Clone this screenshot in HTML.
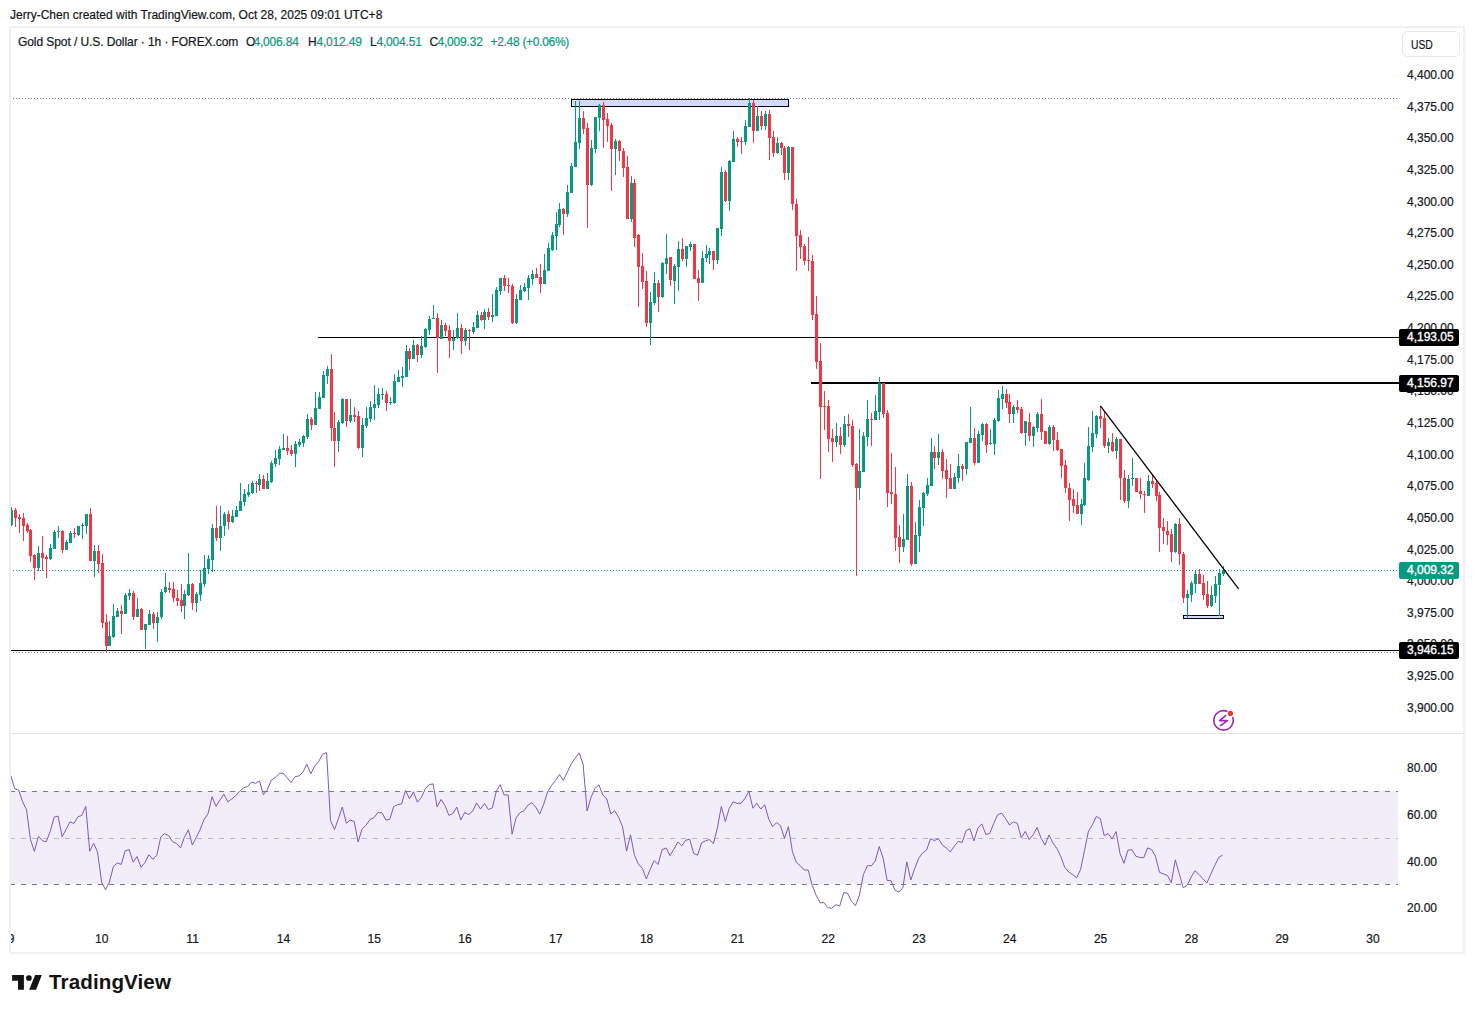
<!DOCTYPE html><html><head><meta charset="utf-8"><style>html,body{margin:0;padding:0;background:#fff;}body{width:1474px;height:1013px;position:relative;overflow:hidden;font-family:"Liberation Sans",sans-serif;color:#131722;-webkit-text-stroke:0.2px currentColor;}.t{position:absolute;white-space:nowrap;line-height:1;}.pa{position:absolute;left:1407px;font-size:12px;line-height:14px;white-space:nowrap;color:#131722;}.ta{position:absolute;font-size:12px;line-height:14px;white-space:nowrap;color:#131722;transform:translateX(-50%);}</style></head><body>
<div class="t" style="left:10px;top:9px;font-size:12px;color:#131722">Jerry-Chen created with TradingView.com, Oct 28, 2025 09:01 UTC+8</div>
<svg width="1474" height="1013" style="position:absolute;left:0;top:0"><defs><clipPath id="cp"><rect x="10" y="28" width="1453" height="705"/></clipPath><clipPath id="cr"><rect x="10" y="734" width="1388" height="190"/></clipPath></defs><rect x="11" y="791" width="1387" height="93" fill="#f2eef9"/><g clip-path="url(#cr)"><line x1="10" y1="791.5" x2="1401" y2="791.5" stroke="#787b86" stroke-width="1" stroke-dasharray="5 6"/><line x1="10" y1="838.5" x2="1401" y2="838.5" stroke="#b8bac2" stroke-width="1" stroke-dasharray="5 6"/><line x1="10" y1="884.5" x2="1401" y2="884.5" stroke="#787b86" stroke-width="1" stroke-dasharray="5 6"/></g><rect x="11" y="733" width="1452" height="1" fill="#e0e3eb"/><g clip-path="url(#cp)"><line x1="10" y1="98.5" x2="1397" y2="98.5" stroke="#787b86" stroke-width="1" stroke-dasharray="1 2"/><line x1="10" y1="652.5" x2="1397" y2="652.5" stroke="#787b86" stroke-width="1" stroke-dasharray="1 2"/><rect x="318" y="337" width="1081" height="1" fill="#000"/><rect x="811" y="382" width="588" height="2" fill="#000"/><rect x="11" y="650" width="1388" height="1" fill="#000"/><line x1="10" y1="570.5" x2="1397" y2="570.5" stroke="#089981" stroke-width="1" stroke-dasharray="1 2"/><rect x="571.5" y="99.5" width="217" height="7" fill="#d2dcfa" stroke="#000" stroke-width="1"/><rect x="1183.5" y="615.5" width="40" height="3" fill="#d2dcfa" stroke="#000" stroke-width="1"/><rect x="11" y="507" width="1" height="19" fill="#089981"/><rect x="10" y="510" width="3" height="15" fill="#089981"/><rect x="15" y="508" width="1" height="19" fill="#F23645"/><rect x="14" y="510" width="3" height="8" fill="#F23645"/><rect x="19" y="514" width="1" height="19" fill="#F23645"/><rect x="18" y="517" width="3" height="2" fill="#F23645"/><rect x="23" y="513" width="1" height="28" fill="#F23645"/><rect x="22" y="518" width="3" height="8" fill="#F23645"/><rect x="27" y="523" width="1" height="10" fill="#F23645"/><rect x="26" y="525" width="3" height="6" fill="#F23645"/><rect x="30" y="529" width="1" height="33" fill="#F23645"/><rect x="29" y="530" width="3" height="26" fill="#F23645"/><rect x="34" y="554" width="1" height="26" fill="#F23645"/><rect x="33" y="555" width="3" height="13" fill="#F23645"/><rect x="38" y="546" width="1" height="25" fill="#089981"/><rect x="37" y="553" width="3" height="15" fill="#089981"/><rect x="42" y="536" width="1" height="35" fill="#F23645"/><rect x="41" y="553" width="3" height="5" fill="#F23645"/><rect x="46" y="555" width="1" height="23" fill="#F23645"/><rect x="45" y="557" width="3" height="2" fill="#F23645"/><rect x="50" y="544" width="1" height="16" fill="#089981"/><rect x="49" y="548" width="3" height="11" fill="#089981"/><rect x="54" y="530" width="1" height="19" fill="#089981"/><rect x="53" y="532" width="3" height="17" fill="#089981"/><rect x="58" y="526" width="1" height="12" fill="#089981"/><rect x="57" y="531" width="3" height="1" fill="#089981"/><rect x="62" y="530" width="1" height="23" fill="#F23645"/><rect x="61" y="531" width="3" height="19" fill="#F23645"/><rect x="66" y="540" width="1" height="10" fill="#089981"/><rect x="65" y="542" width="3" height="8" fill="#089981"/><rect x="70" y="531" width="1" height="12" fill="#089981"/><rect x="69" y="533" width="3" height="10" fill="#089981"/><rect x="74" y="528" width="1" height="10" fill="#F23645"/><rect x="73" y="533" width="3" height="1" fill="#F23645"/><rect x="78" y="526" width="1" height="10" fill="#089981"/><rect x="77" y="526" width="3" height="9" fill="#089981"/><rect x="82" y="523" width="1" height="16" fill="#089981"/><rect x="81" y="525" width="3" height="1" fill="#089981"/><rect x="86" y="514" width="1" height="20" fill="#089981"/><rect x="85" y="514" width="3" height="12" fill="#089981"/><rect x="90" y="508" width="1" height="53" fill="#F23645"/><rect x="89" y="514" width="3" height="47" fill="#F23645"/><rect x="94" y="545" width="1" height="32" fill="#089981"/><rect x="93" y="551" width="3" height="10" fill="#089981"/><rect x="98" y="545" width="1" height="28" fill="#F23645"/><rect x="97" y="551" width="3" height="13" fill="#F23645"/><rect x="102" y="554" width="1" height="74" fill="#F23645"/><rect x="101" y="563" width="3" height="60" fill="#F23645"/><rect x="106" y="614" width="1" height="38" fill="#F23645"/><rect x="105" y="622" width="3" height="24" fill="#F23645"/><rect x="109" y="621" width="1" height="25" fill="#089981"/><rect x="108" y="636" width="3" height="10" fill="#089981"/><rect x="113" y="604" width="1" height="34" fill="#089981"/><rect x="112" y="616" width="3" height="21" fill="#089981"/><rect x="117" y="608" width="1" height="9" fill="#089981"/><rect x="116" y="611" width="3" height="6" fill="#089981"/><rect x="121" y="605" width="1" height="29" fill="#F23645"/><rect x="120" y="611" width="3" height="3" fill="#F23645"/><rect x="125" y="593" width="1" height="21" fill="#089981"/><rect x="124" y="595" width="3" height="19" fill="#089981"/><rect x="129" y="589" width="1" height="11" fill="#089981"/><rect x="128" y="593" width="3" height="3" fill="#089981"/><rect x="133" y="591" width="1" height="29" fill="#F23645"/><rect x="132" y="593" width="3" height="24" fill="#F23645"/><rect x="137" y="598" width="1" height="19" fill="#089981"/><rect x="136" y="609" width="3" height="8" fill="#089981"/><rect x="141" y="608" width="1" height="22" fill="#F23645"/><rect x="140" y="609" width="3" height="21" fill="#F23645"/><rect x="145" y="624" width="1" height="25" fill="#089981"/><rect x="144" y="624" width="3" height="6" fill="#089981"/><rect x="149" y="610" width="1" height="15" fill="#089981"/><rect x="148" y="614" width="3" height="11" fill="#089981"/><rect x="153" y="612" width="1" height="17" fill="#F23645"/><rect x="152" y="614" width="3" height="9" fill="#F23645"/><rect x="157" y="612" width="1" height="30" fill="#089981"/><rect x="156" y="617" width="3" height="6" fill="#089981"/><rect x="161" y="589" width="1" height="30" fill="#089981"/><rect x="160" y="592" width="3" height="25" fill="#089981"/><rect x="165" y="573" width="1" height="20" fill="#089981"/><rect x="164" y="587" width="3" height="5" fill="#089981"/><rect x="169" y="582" width="1" height="11" fill="#F23645"/><rect x="168" y="588" width="3" height="2" fill="#F23645"/><rect x="173" y="582" width="1" height="20" fill="#F23645"/><rect x="172" y="589" width="3" height="9" fill="#F23645"/><rect x="177" y="590" width="1" height="16" fill="#F23645"/><rect x="176" y="598" width="3" height="3" fill="#F23645"/><rect x="181" y="584" width="1" height="28" fill="#F23645"/><rect x="180" y="600" width="3" height="6" fill="#F23645"/><rect x="184" y="590" width="1" height="29" fill="#089981"/><rect x="183" y="594" width="3" height="12" fill="#089981"/><rect x="188" y="553" width="1" height="43" fill="#089981"/><rect x="187" y="584" width="3" height="11" fill="#089981"/><rect x="192" y="583" width="1" height="27" fill="#F23645"/><rect x="191" y="584" width="3" height="19" fill="#F23645"/><rect x="196" y="592" width="1" height="20" fill="#089981"/><rect x="195" y="594" width="3" height="9" fill="#089981"/><rect x="200" y="570" width="1" height="31" fill="#089981"/><rect x="199" y="583" width="3" height="12" fill="#089981"/><rect x="204" y="555" width="1" height="32" fill="#089981"/><rect x="203" y="568" width="3" height="16" fill="#089981"/><rect x="208" y="555" width="1" height="19" fill="#089981"/><rect x="207" y="559" width="3" height="10" fill="#089981"/><rect x="212" y="524" width="1" height="48" fill="#089981"/><rect x="211" y="528" width="3" height="32" fill="#089981"/><rect x="216" y="506" width="1" height="35" fill="#F23645"/><rect x="215" y="528" width="3" height="10" fill="#F23645"/><rect x="220" y="506" width="1" height="45" fill="#089981"/><rect x="219" y="526" width="3" height="12" fill="#089981"/><rect x="224" y="512" width="1" height="24" fill="#089981"/><rect x="223" y="514" width="3" height="12" fill="#089981"/><rect x="228" y="511" width="1" height="18" fill="#F23645"/><rect x="227" y="514" width="3" height="8" fill="#F23645"/><rect x="232" y="510" width="1" height="13" fill="#089981"/><rect x="231" y="516" width="3" height="6" fill="#089981"/><rect x="236" y="506" width="1" height="11" fill="#089981"/><rect x="235" y="510" width="3" height="7" fill="#089981"/><rect x="240" y="483" width="1" height="28" fill="#089981"/><rect x="239" y="501" width="3" height="10" fill="#089981"/><rect x="244" y="489" width="1" height="17" fill="#089981"/><rect x="243" y="494" width="3" height="8" fill="#089981"/><rect x="248" y="484" width="1" height="13" fill="#089981"/><rect x="247" y="492" width="3" height="3" fill="#089981"/><rect x="252" y="481" width="1" height="13" fill="#089981"/><rect x="251" y="483" width="3" height="10" fill="#089981"/><rect x="256" y="481" width="1" height="12" fill="#F23645"/><rect x="255" y="483" width="3" height="1" fill="#F23645"/><rect x="259" y="474" width="1" height="17" fill="#089981"/><rect x="258" y="479" width="3" height="6" fill="#089981"/><rect x="263" y="475" width="1" height="14" fill="#F23645"/><rect x="262" y="479" width="3" height="10" fill="#F23645"/><rect x="267" y="473" width="1" height="16" fill="#089981"/><rect x="266" y="481" width="3" height="8" fill="#089981"/><rect x="271" y="461" width="1" height="22" fill="#089981"/><rect x="270" y="463" width="3" height="19" fill="#089981"/><rect x="275" y="450" width="1" height="17" fill="#089981"/><rect x="274" y="458" width="3" height="6" fill="#089981"/><rect x="279" y="446" width="1" height="19" fill="#089981"/><rect x="278" y="449" width="3" height="10" fill="#089981"/><rect x="283" y="434" width="1" height="16" fill="#089981"/><rect x="282" y="448" width="3" height="2" fill="#089981"/><rect x="287" y="436" width="1" height="19" fill="#F23645"/><rect x="286" y="448" width="3" height="3" fill="#F23645"/><rect x="291" y="445" width="1" height="11" fill="#F23645"/><rect x="290" y="450" width="3" height="4" fill="#F23645"/><rect x="295" y="441" width="1" height="26" fill="#089981"/><rect x="294" y="444" width="3" height="10" fill="#089981"/><rect x="299" y="439" width="1" height="8" fill="#089981"/><rect x="298" y="442" width="3" height="3" fill="#089981"/><rect x="303" y="435" width="1" height="12" fill="#089981"/><rect x="302" y="436" width="3" height="7" fill="#089981"/><rect x="307" y="414" width="1" height="25" fill="#089981"/><rect x="306" y="419" width="3" height="18" fill="#089981"/><rect x="311" y="417" width="1" height="13" fill="#F23645"/><rect x="310" y="419" width="3" height="6" fill="#F23645"/><rect x="315" y="392" width="1" height="33" fill="#089981"/><rect x="314" y="408" width="3" height="17" fill="#089981"/><rect x="319" y="392" width="1" height="17" fill="#089981"/><rect x="318" y="397" width="3" height="12" fill="#089981"/><rect x="323" y="371" width="1" height="27" fill="#089981"/><rect x="322" y="375" width="3" height="23" fill="#089981"/><rect x="327" y="366" width="1" height="18" fill="#089981"/><rect x="326" y="369" width="3" height="7" fill="#089981"/><rect x="331" y="354" width="1" height="87" fill="#F23645"/><rect x="330" y="369" width="3" height="59" fill="#F23645"/><rect x="334" y="412" width="1" height="55" fill="#F23645"/><rect x="333" y="428" width="3" height="13" fill="#F23645"/><rect x="338" y="420" width="1" height="32" fill="#089981"/><rect x="337" y="422" width="3" height="19" fill="#089981"/><rect x="342" y="398" width="1" height="26" fill="#089981"/><rect x="341" y="399" width="3" height="24" fill="#089981"/><rect x="346" y="399" width="1" height="28" fill="#F23645"/><rect x="345" y="399" width="3" height="22" fill="#F23645"/><rect x="350" y="399" width="1" height="24" fill="#089981"/><rect x="349" y="415" width="3" height="6" fill="#089981"/><rect x="354" y="407" width="1" height="15" fill="#F23645"/><rect x="353" y="415" width="3" height="2" fill="#F23645"/><rect x="358" y="411" width="1" height="38" fill="#F23645"/><rect x="357" y="416" width="3" height="32" fill="#F23645"/><rect x="362" y="418" width="1" height="39" fill="#089981"/><rect x="361" y="425" width="3" height="23" fill="#089981"/><rect x="366" y="407" width="1" height="21" fill="#089981"/><rect x="365" y="418" width="3" height="8" fill="#089981"/><rect x="370" y="401" width="1" height="21" fill="#089981"/><rect x="369" y="407" width="3" height="12" fill="#089981"/><rect x="374" y="385" width="1" height="35" fill="#089981"/><rect x="373" y="404" width="3" height="4" fill="#089981"/><rect x="378" y="388" width="1" height="20" fill="#089981"/><rect x="377" y="394" width="3" height="11" fill="#089981"/><rect x="382" y="388" width="1" height="12" fill="#089981"/><rect x="381" y="394" width="3" height="1" fill="#089981"/><rect x="386" y="391" width="1" height="20" fill="#F23645"/><rect x="385" y="394" width="3" height="9" fill="#F23645"/><rect x="390" y="397" width="1" height="8" fill="#089981"/><rect x="389" y="402" width="3" height="1" fill="#089981"/><rect x="394" y="374" width="1" height="30" fill="#089981"/><rect x="393" y="381" width="3" height="22" fill="#089981"/><rect x="398" y="370" width="1" height="12" fill="#089981"/><rect x="397" y="377" width="3" height="5" fill="#089981"/><rect x="402" y="367" width="1" height="20" fill="#089981"/><rect x="401" y="376" width="3" height="2" fill="#089981"/><rect x="406" y="345" width="1" height="32" fill="#089981"/><rect x="405" y="351" width="3" height="26" fill="#089981"/><rect x="409" y="348" width="1" height="22" fill="#F23645"/><rect x="408" y="351" width="3" height="8" fill="#F23645"/><rect x="413" y="340" width="1" height="19" fill="#089981"/><rect x="412" y="345" width="3" height="14" fill="#089981"/><rect x="417" y="344" width="1" height="18" fill="#F23645"/><rect x="416" y="345" width="3" height="10" fill="#F23645"/><rect x="421" y="336" width="1" height="22" fill="#089981"/><rect x="420" y="346" width="3" height="9" fill="#089981"/><rect x="425" y="328" width="1" height="20" fill="#089981"/><rect x="424" y="329" width="3" height="18" fill="#089981"/><rect x="429" y="316" width="1" height="19" fill="#089981"/><rect x="428" y="319" width="3" height="11" fill="#089981"/><rect x="433" y="305" width="1" height="14" fill="#089981"/><rect x="432" y="318" width="3" height="1" fill="#089981"/><rect x="437" y="313" width="1" height="60" fill="#F23645"/><rect x="436" y="318" width="3" height="20" fill="#F23645"/><rect x="441" y="320" width="1" height="19" fill="#089981"/><rect x="440" y="325" width="3" height="14" fill="#089981"/><rect x="445" y="323" width="1" height="13" fill="#F23645"/><rect x="444" y="325" width="3" height="6" fill="#F23645"/><rect x="449" y="325" width="1" height="33" fill="#F23645"/><rect x="448" y="330" width="3" height="11" fill="#F23645"/><rect x="453" y="330" width="1" height="20" fill="#089981"/><rect x="452" y="338" width="3" height="3" fill="#089981"/><rect x="457" y="313" width="1" height="26" fill="#089981"/><rect x="456" y="328" width="3" height="10" fill="#089981"/><rect x="461" y="324" width="1" height="30" fill="#F23645"/><rect x="460" y="328" width="3" height="13" fill="#F23645"/><rect x="465" y="328" width="1" height="18" fill="#089981"/><rect x="464" y="330" width="3" height="11" fill="#089981"/><rect x="469" y="329" width="1" height="21" fill="#F23645"/><rect x="468" y="330" width="3" height="1" fill="#F23645"/><rect x="473" y="322" width="1" height="12" fill="#089981"/><rect x="472" y="327" width="3" height="5" fill="#089981"/><rect x="477" y="311" width="1" height="17" fill="#089981"/><rect x="476" y="315" width="3" height="13" fill="#089981"/><rect x="481" y="312" width="1" height="9" fill="#F23645"/><rect x="480" y="315" width="3" height="5" fill="#F23645"/><rect x="484" y="309" width="1" height="20" fill="#089981"/><rect x="483" y="312" width="3" height="8" fill="#089981"/><rect x="488" y="308" width="1" height="12" fill="#F23645"/><rect x="487" y="312" width="3" height="5" fill="#F23645"/><rect x="492" y="294" width="1" height="28" fill="#089981"/><rect x="491" y="315" width="3" height="2" fill="#089981"/><rect x="496" y="287" width="1" height="29" fill="#089981"/><rect x="495" y="290" width="3" height="26" fill="#089981"/><rect x="500" y="278" width="1" height="17" fill="#089981"/><rect x="499" y="278" width="3" height="13" fill="#089981"/><rect x="504" y="275" width="1" height="16" fill="#F23645"/><rect x="503" y="278" width="3" height="8" fill="#F23645"/><rect x="508" y="278" width="1" height="15" fill="#F23645"/><rect x="507" y="285" width="3" height="1" fill="#F23645"/><rect x="512" y="284" width="1" height="40" fill="#F23645"/><rect x="511" y="286" width="3" height="37" fill="#F23645"/><rect x="516" y="294" width="1" height="30" fill="#089981"/><rect x="515" y="299" width="3" height="24" fill="#089981"/><rect x="520" y="285" width="1" height="15" fill="#089981"/><rect x="519" y="290" width="3" height="10" fill="#089981"/><rect x="524" y="283" width="1" height="9" fill="#089981"/><rect x="523" y="287" width="3" height="4" fill="#089981"/><rect x="528" y="275" width="1" height="25" fill="#089981"/><rect x="527" y="278" width="3" height="10" fill="#089981"/><rect x="532" y="270" width="1" height="15" fill="#089981"/><rect x="531" y="274" width="3" height="5" fill="#089981"/><rect x="536" y="268" width="1" height="10" fill="#F23645"/><rect x="535" y="274" width="3" height="4" fill="#F23645"/><rect x="540" y="264" width="1" height="29" fill="#F23645"/><rect x="539" y="277" width="3" height="7" fill="#F23645"/><rect x="544" y="254" width="1" height="30" fill="#089981"/><rect x="543" y="270" width="3" height="14" fill="#089981"/><rect x="548" y="243" width="1" height="28" fill="#089981"/><rect x="547" y="248" width="3" height="23" fill="#089981"/><rect x="552" y="232" width="1" height="19" fill="#089981"/><rect x="551" y="235" width="3" height="15" fill="#089981"/><rect x="556" y="212" width="1" height="38" fill="#089981"/><rect x="555" y="224" width="3" height="12" fill="#089981"/><rect x="559" y="203" width="1" height="24" fill="#089981"/><rect x="558" y="209" width="3" height="16" fill="#089981"/><rect x="563" y="208" width="1" height="27" fill="#F23645"/><rect x="562" y="209" width="3" height="5" fill="#F23645"/><rect x="567" y="185" width="1" height="32" fill="#089981"/><rect x="566" y="192" width="3" height="22" fill="#089981"/><rect x="571" y="163" width="1" height="30" fill="#089981"/><rect x="570" y="166" width="3" height="27" fill="#089981"/><rect x="575" y="101" width="1" height="66" fill="#089981"/><rect x="574" y="142" width="3" height="25" fill="#089981"/><rect x="579" y="101" width="1" height="48" fill="#089981"/><rect x="578" y="118" width="3" height="25" fill="#089981"/><rect x="583" y="111" width="1" height="23" fill="#F23645"/><rect x="582" y="118" width="3" height="11" fill="#F23645"/><rect x="587" y="123" width="1" height="105" fill="#F23645"/><rect x="586" y="128" width="3" height="57" fill="#F23645"/><rect x="591" y="140" width="1" height="46" fill="#089981"/><rect x="590" y="148" width="3" height="37" fill="#089981"/><rect x="595" y="117" width="1" height="36" fill="#089981"/><rect x="594" y="117" width="3" height="32" fill="#089981"/><rect x="599" y="104" width="1" height="27" fill="#089981"/><rect x="598" y="105" width="3" height="13" fill="#089981"/><rect x="603" y="102" width="1" height="46" fill="#F23645"/><rect x="602" y="105" width="3" height="15" fill="#F23645"/><rect x="607" y="113" width="1" height="29" fill="#F23645"/><rect x="606" y="119" width="3" height="7" fill="#F23645"/><rect x="611" y="123" width="1" height="68" fill="#F23645"/><rect x="610" y="125" width="3" height="24" fill="#F23645"/><rect x="615" y="139" width="1" height="36" fill="#089981"/><rect x="614" y="141" width="3" height="8" fill="#089981"/><rect x="619" y="140" width="1" height="21" fill="#F23645"/><rect x="618" y="141" width="3" height="10" fill="#F23645"/><rect x="623" y="148" width="1" height="29" fill="#F23645"/><rect x="622" y="151" width="3" height="17" fill="#F23645"/><rect x="627" y="156" width="1" height="63" fill="#F23645"/><rect x="626" y="167" width="3" height="52" fill="#F23645"/><rect x="631" y="176" width="1" height="46" fill="#089981"/><rect x="630" y="183" width="3" height="36" fill="#089981"/><rect x="634" y="179" width="1" height="68" fill="#F23645"/><rect x="633" y="183" width="3" height="55" fill="#F23645"/><rect x="638" y="234" width="1" height="73" fill="#F23645"/><rect x="637" y="235" width="3" height="32" fill="#F23645"/><rect x="642" y="253" width="1" height="36" fill="#F23645"/><rect x="641" y="266" width="3" height="16" fill="#F23645"/><rect x="646" y="271" width="1" height="56" fill="#F23645"/><rect x="645" y="281" width="3" height="42" fill="#F23645"/><rect x="650" y="292" width="1" height="53" fill="#089981"/><rect x="649" y="302" width="3" height="21" fill="#089981"/><rect x="654" y="272" width="1" height="33" fill="#089981"/><rect x="653" y="283" width="3" height="20" fill="#089981"/><rect x="658" y="280" width="1" height="32" fill="#F23645"/><rect x="657" y="283" width="3" height="14" fill="#F23645"/><rect x="662" y="262" width="1" height="36" fill="#089981"/><rect x="661" y="263" width="3" height="34" fill="#089981"/><rect x="666" y="234" width="1" height="40" fill="#089981"/><rect x="665" y="258" width="3" height="6" fill="#089981"/><rect x="670" y="257" width="1" height="29" fill="#F23645"/><rect x="669" y="257" width="3" height="23" fill="#F23645"/><rect x="674" y="264" width="1" height="40" fill="#089981"/><rect x="673" y="266" width="3" height="15" fill="#089981"/><rect x="678" y="241" width="1" height="50" fill="#089981"/><rect x="677" y="249" width="3" height="18" fill="#089981"/><rect x="682" y="238" width="1" height="23" fill="#F23645"/><rect x="681" y="249" width="3" height="10" fill="#F23645"/><rect x="686" y="246" width="1" height="21" fill="#089981"/><rect x="685" y="246" width="3" height="13" fill="#089981"/><rect x="690" y="242" width="1" height="9" fill="#089981"/><rect x="689" y="244" width="3" height="3" fill="#089981"/><rect x="694" y="244" width="1" height="35" fill="#F23645"/><rect x="693" y="244" width="3" height="35" fill="#F23645"/><rect x="698" y="270" width="1" height="31" fill="#F23645"/><rect x="697" y="278" width="3" height="5" fill="#F23645"/><rect x="702" y="251" width="1" height="32" fill="#089981"/><rect x="701" y="258" width="3" height="25" fill="#089981"/><rect x="706" y="245" width="1" height="17" fill="#089981"/><rect x="705" y="254" width="3" height="4" fill="#089981"/><rect x="709" y="248" width="1" height="16" fill="#089981"/><rect x="708" y="251" width="3" height="4" fill="#089981"/><rect x="713" y="251" width="1" height="19" fill="#F23645"/><rect x="712" y="251" width="3" height="9" fill="#F23645"/><rect x="717" y="228" width="1" height="36" fill="#089981"/><rect x="716" y="228" width="3" height="32" fill="#089981"/><rect x="721" y="167" width="1" height="69" fill="#089981"/><rect x="720" y="172" width="3" height="57" fill="#089981"/><rect x="725" y="170" width="1" height="32" fill="#F23645"/><rect x="724" y="172" width="3" height="29" fill="#F23645"/><rect x="729" y="160" width="1" height="51" fill="#089981"/><rect x="728" y="161" width="3" height="40" fill="#089981"/><rect x="733" y="131" width="1" height="31" fill="#089981"/><rect x="732" y="139" width="3" height="23" fill="#089981"/><rect x="737" y="137" width="1" height="10" fill="#F23645"/><rect x="736" y="139" width="3" height="3" fill="#F23645"/><rect x="741" y="137" width="1" height="17" fill="#F23645"/><rect x="740" y="141" width="3" height="1" fill="#F23645"/><rect x="745" y="120" width="1" height="25" fill="#089981"/><rect x="744" y="126" width="3" height="16" fill="#089981"/><rect x="749" y="98" width="1" height="29" fill="#089981"/><rect x="748" y="103" width="3" height="24" fill="#089981"/><rect x="753" y="100" width="1" height="43" fill="#F23645"/><rect x="752" y="103" width="3" height="28" fill="#F23645"/><rect x="757" y="106" width="1" height="25" fill="#089981"/><rect x="756" y="116" width="3" height="15" fill="#089981"/><rect x="761" y="111" width="1" height="19" fill="#F23645"/><rect x="760" y="116" width="3" height="10" fill="#F23645"/><rect x="765" y="111" width="1" height="19" fill="#089981"/><rect x="764" y="114" width="3" height="12" fill="#089981"/><rect x="769" y="110" width="1" height="50" fill="#F23645"/><rect x="768" y="114" width="3" height="24" fill="#F23645"/><rect x="773" y="131" width="1" height="26" fill="#F23645"/><rect x="772" y="137" width="3" height="16" fill="#F23645"/><rect x="777" y="137" width="1" height="17" fill="#089981"/><rect x="776" y="143" width="3" height="10" fill="#089981"/><rect x="781" y="142" width="1" height="13" fill="#F23645"/><rect x="780" y="143" width="3" height="5" fill="#F23645"/><rect x="784" y="146" width="1" height="34" fill="#F23645"/><rect x="783" y="148" width="3" height="25" fill="#F23645"/><rect x="788" y="146" width="1" height="34" fill="#089981"/><rect x="787" y="147" width="3" height="26" fill="#089981"/><rect x="792" y="147" width="1" height="63" fill="#F23645"/><rect x="791" y="147" width="3" height="57" fill="#F23645"/><rect x="796" y="199" width="1" height="72" fill="#F23645"/><rect x="795" y="204" width="3" height="32" fill="#F23645"/><rect x="800" y="230" width="1" height="29" fill="#F23645"/><rect x="799" y="235" width="3" height="12" fill="#F23645"/><rect x="804" y="244" width="1" height="21" fill="#F23645"/><rect x="803" y="246" width="3" height="15" fill="#F23645"/><rect x="808" y="237" width="1" height="34" fill="#F23645"/><rect x="807" y="260" width="3" height="1" fill="#F23645"/><rect x="812" y="255" width="1" height="65" fill="#F23645"/><rect x="811" y="261" width="3" height="54" fill="#F23645"/><rect x="816" y="296" width="1" height="73" fill="#F23645"/><rect x="815" y="314" width="3" height="48" fill="#F23645"/><rect x="820" y="343" width="1" height="136" fill="#F23645"/><rect x="819" y="361" width="3" height="46" fill="#F23645"/><rect x="824" y="391" width="1" height="39" fill="#F23645"/><rect x="823" y="406" width="3" height="1" fill="#F23645"/><rect x="828" y="400" width="1" height="52" fill="#F23645"/><rect x="827" y="406" width="3" height="33" fill="#F23645"/><rect x="832" y="429" width="1" height="33" fill="#F23645"/><rect x="831" y="438" width="3" height="4" fill="#F23645"/><rect x="836" y="423" width="1" height="24" fill="#089981"/><rect x="835" y="436" width="3" height="6" fill="#089981"/><rect x="840" y="427" width="1" height="27" fill="#F23645"/><rect x="839" y="436" width="3" height="9" fill="#F23645"/><rect x="844" y="416" width="1" height="31" fill="#089981"/><rect x="843" y="424" width="3" height="21" fill="#089981"/><rect x="848" y="414" width="1" height="23" fill="#F23645"/><rect x="847" y="424" width="3" height="2" fill="#F23645"/><rect x="852" y="420" width="1" height="47" fill="#F23645"/><rect x="851" y="426" width="3" height="39" fill="#F23645"/><rect x="856" y="463" width="1" height="113" fill="#F23645"/><rect x="855" y="464" width="3" height="24" fill="#F23645"/><rect x="859" y="429" width="1" height="71" fill="#089981"/><rect x="858" y="471" width="3" height="17" fill="#089981"/><rect x="863" y="432" width="1" height="40" fill="#089981"/><rect x="862" y="436" width="3" height="36" fill="#089981"/><rect x="867" y="400" width="1" height="46" fill="#089981"/><rect x="866" y="419" width="3" height="18" fill="#089981"/><rect x="871" y="413" width="1" height="33" fill="#F23645"/><rect x="870" y="419" width="3" height="1" fill="#F23645"/><rect x="875" y="395" width="1" height="25" fill="#089981"/><rect x="874" y="411" width="3" height="9" fill="#089981"/><rect x="879" y="377" width="1" height="43" fill="#089981"/><rect x="878" y="383" width="3" height="29" fill="#089981"/><rect x="883" y="383" width="1" height="35" fill="#F23645"/><rect x="882" y="383" width="3" height="31" fill="#F23645"/><rect x="887" y="410" width="1" height="97" fill="#F23645"/><rect x="886" y="413" width="3" height="80" fill="#F23645"/><rect x="891" y="453" width="1" height="51" fill="#F23645"/><rect x="890" y="492" width="3" height="2" fill="#F23645"/><rect x="895" y="467" width="1" height="84" fill="#F23645"/><rect x="894" y="494" width="3" height="44" fill="#F23645"/><rect x="899" y="525" width="1" height="38" fill="#F23645"/><rect x="898" y="537" width="3" height="10" fill="#F23645"/><rect x="903" y="514" width="1" height="38" fill="#089981"/><rect x="902" y="539" width="3" height="8" fill="#089981"/><rect x="907" y="474" width="1" height="66" fill="#089981"/><rect x="906" y="486" width="3" height="54" fill="#089981"/><rect x="911" y="482" width="1" height="84" fill="#F23645"/><rect x="910" y="486" width="3" height="78" fill="#F23645"/><rect x="915" y="522" width="1" height="42" fill="#089981"/><rect x="914" y="535" width="3" height="29" fill="#089981"/><rect x="919" y="500" width="1" height="52" fill="#089981"/><rect x="918" y="507" width="3" height="29" fill="#089981"/><rect x="923" y="492" width="1" height="34" fill="#089981"/><rect x="922" y="493" width="3" height="15" fill="#089981"/><rect x="927" y="478" width="1" height="18" fill="#089981"/><rect x="926" y="485" width="3" height="9" fill="#089981"/><rect x="931" y="438" width="1" height="48" fill="#089981"/><rect x="930" y="452" width="3" height="34" fill="#089981"/><rect x="934" y="446" width="1" height="23" fill="#F23645"/><rect x="933" y="452" width="3" height="6" fill="#F23645"/><rect x="938" y="434" width="1" height="31" fill="#089981"/><rect x="937" y="452" width="3" height="6" fill="#089981"/><rect x="942" y="449" width="1" height="30" fill="#F23645"/><rect x="941" y="452" width="3" height="19" fill="#F23645"/><rect x="946" y="459" width="1" height="39" fill="#F23645"/><rect x="945" y="470" width="3" height="9" fill="#F23645"/><rect x="950" y="464" width="1" height="25" fill="#F23645"/><rect x="949" y="478" width="3" height="11" fill="#F23645"/><rect x="954" y="473" width="1" height="16" fill="#089981"/><rect x="953" y="477" width="3" height="12" fill="#089981"/><rect x="958" y="454" width="1" height="29" fill="#089981"/><rect x="957" y="466" width="3" height="12" fill="#089981"/><rect x="962" y="464" width="1" height="17" fill="#F23645"/><rect x="961" y="466" width="3" height="3" fill="#F23645"/><rect x="966" y="442" width="1" height="33" fill="#089981"/><rect x="965" y="442" width="3" height="27" fill="#089981"/><rect x="970" y="407" width="1" height="36" fill="#089981"/><rect x="969" y="438" width="3" height="5" fill="#089981"/><rect x="974" y="428" width="1" height="37" fill="#F23645"/><rect x="973" y="438" width="3" height="25" fill="#F23645"/><rect x="978" y="431" width="1" height="32" fill="#089981"/><rect x="977" y="434" width="3" height="29" fill="#089981"/><rect x="982" y="423" width="1" height="18" fill="#089981"/><rect x="981" y="424" width="3" height="11" fill="#089981"/><rect x="986" y="423" width="1" height="30" fill="#F23645"/><rect x="985" y="424" width="3" height="21" fill="#F23645"/><rect x="990" y="429" width="1" height="16" fill="#089981"/><rect x="989" y="443" width="3" height="1" fill="#089981"/><rect x="994" y="418" width="1" height="37" fill="#089981"/><rect x="993" y="420" width="3" height="24" fill="#089981"/><rect x="998" y="390" width="1" height="32" fill="#089981"/><rect x="997" y="398" width="3" height="23" fill="#089981"/><rect x="1002" y="386" width="1" height="23" fill="#089981"/><rect x="1001" y="394" width="3" height="5" fill="#089981"/><rect x="1006" y="389" width="1" height="19" fill="#F23645"/><rect x="1005" y="394" width="3" height="9" fill="#F23645"/><rect x="1009" y="394" width="1" height="29" fill="#F23645"/><rect x="1008" y="402" width="3" height="12" fill="#F23645"/><rect x="1013" y="405" width="1" height="18" fill="#089981"/><rect x="1012" y="407" width="3" height="7" fill="#089981"/><rect x="1017" y="400" width="1" height="13" fill="#F23645"/><rect x="1016" y="407" width="3" height="3" fill="#F23645"/><rect x="1021" y="407" width="1" height="27" fill="#F23645"/><rect x="1020" y="409" width="3" height="24" fill="#F23645"/><rect x="1025" y="421" width="1" height="25" fill="#089981"/><rect x="1024" y="421" width="3" height="12" fill="#089981"/><rect x="1029" y="413" width="1" height="28" fill="#F23645"/><rect x="1028" y="422" width="3" height="14" fill="#F23645"/><rect x="1033" y="426" width="1" height="21" fill="#089981"/><rect x="1032" y="427" width="3" height="9" fill="#089981"/><rect x="1037" y="412" width="1" height="20" fill="#089981"/><rect x="1036" y="414" width="3" height="14" fill="#089981"/><rect x="1041" y="399" width="1" height="41" fill="#F23645"/><rect x="1040" y="414" width="3" height="18" fill="#F23645"/><rect x="1045" y="431" width="1" height="13" fill="#F23645"/><rect x="1044" y="431" width="3" height="13" fill="#F23645"/><rect x="1049" y="425" width="1" height="20" fill="#089981"/><rect x="1048" y="427" width="3" height="17" fill="#089981"/><rect x="1053" y="425" width="1" height="26" fill="#F23645"/><rect x="1052" y="427" width="3" height="13" fill="#F23645"/><rect x="1057" y="432" width="1" height="19" fill="#F23645"/><rect x="1056" y="440" width="3" height="10" fill="#F23645"/><rect x="1061" y="449" width="1" height="29" fill="#F23645"/><rect x="1060" y="449" width="3" height="17" fill="#F23645"/><rect x="1065" y="460" width="1" height="33" fill="#F23645"/><rect x="1064" y="465" width="3" height="23" fill="#F23645"/><rect x="1069" y="483" width="1" height="38" fill="#F23645"/><rect x="1068" y="488" width="3" height="12" fill="#F23645"/><rect x="1073" y="489" width="1" height="24" fill="#F23645"/><rect x="1072" y="499" width="3" height="7" fill="#F23645"/><rect x="1077" y="492" width="1" height="22" fill="#F23645"/><rect x="1076" y="505" width="3" height="9" fill="#F23645"/><rect x="1081" y="499" width="1" height="26" fill="#089981"/><rect x="1080" y="504" width="3" height="10" fill="#089981"/><rect x="1084" y="463" width="1" height="43" fill="#089981"/><rect x="1083" y="478" width="3" height="27" fill="#089981"/><rect x="1088" y="427" width="1" height="54" fill="#089981"/><rect x="1087" y="446" width="3" height="34" fill="#089981"/><rect x="1092" y="411" width="1" height="41" fill="#089981"/><rect x="1091" y="433" width="3" height="14" fill="#089981"/><rect x="1096" y="415" width="1" height="23" fill="#089981"/><rect x="1095" y="416" width="3" height="18" fill="#089981"/><rect x="1100" y="406" width="1" height="22" fill="#F23645"/><rect x="1099" y="416" width="3" height="3" fill="#F23645"/><rect x="1104" y="412" width="1" height="36" fill="#F23645"/><rect x="1103" y="418" width="3" height="28" fill="#F23645"/><rect x="1108" y="438" width="1" height="15" fill="#089981"/><rect x="1107" y="442" width="3" height="4" fill="#089981"/><rect x="1112" y="433" width="1" height="19" fill="#F23645"/><rect x="1111" y="442" width="3" height="9" fill="#F23645"/><rect x="1116" y="437" width="1" height="22" fill="#089981"/><rect x="1115" y="439" width="3" height="12" fill="#089981"/><rect x="1120" y="439" width="1" height="61" fill="#F23645"/><rect x="1119" y="439" width="3" height="39" fill="#F23645"/><rect x="1124" y="470" width="1" height="33" fill="#F23645"/><rect x="1123" y="478" width="3" height="23" fill="#F23645"/><rect x="1128" y="475" width="1" height="33" fill="#089981"/><rect x="1127" y="479" width="3" height="22" fill="#089981"/><rect x="1132" y="458" width="1" height="28" fill="#089981"/><rect x="1131" y="478" width="3" height="1" fill="#089981"/><rect x="1136" y="478" width="1" height="14" fill="#F23645"/><rect x="1135" y="478" width="3" height="14" fill="#F23645"/><rect x="1140" y="478" width="1" height="21" fill="#F23645"/><rect x="1139" y="491" width="3" height="3" fill="#F23645"/><rect x="1144" y="491" width="1" height="22" fill="#F23645"/><rect x="1143" y="494" width="3" height="1" fill="#F23645"/><rect x="1148" y="475" width="1" height="21" fill="#089981"/><rect x="1147" y="481" width="3" height="15" fill="#089981"/><rect x="1152" y="474" width="1" height="14" fill="#F23645"/><rect x="1151" y="481" width="3" height="3" fill="#F23645"/><rect x="1156" y="481" width="1" height="20" fill="#F23645"/><rect x="1155" y="483" width="3" height="13" fill="#F23645"/><rect x="1159" y="492" width="1" height="60" fill="#F23645"/><rect x="1158" y="495" width="3" height="33" fill="#F23645"/><rect x="1163" y="518" width="1" height="26" fill="#F23645"/><rect x="1162" y="527" width="3" height="4" fill="#F23645"/><rect x="1167" y="521" width="1" height="24" fill="#F23645"/><rect x="1166" y="531" width="3" height="4" fill="#F23645"/><rect x="1171" y="529" width="1" height="33" fill="#F23645"/><rect x="1170" y="534" width="3" height="18" fill="#F23645"/><rect x="1175" y="523" width="1" height="30" fill="#089981"/><rect x="1174" y="524" width="3" height="28" fill="#089981"/><rect x="1179" y="518" width="1" height="47" fill="#F23645"/><rect x="1178" y="524" width="3" height="30" fill="#F23645"/><rect x="1183" y="552" width="1" height="51" fill="#F23645"/><rect x="1182" y="554" width="3" height="44" fill="#F23645"/><rect x="1187" y="590" width="1" height="28" fill="#089981"/><rect x="1186" y="594" width="3" height="4" fill="#089981"/><rect x="1191" y="581" width="1" height="21" fill="#089981"/><rect x="1190" y="583" width="3" height="12" fill="#089981"/><rect x="1195" y="570" width="1" height="23" fill="#089981"/><rect x="1194" y="574" width="3" height="10" fill="#089981"/><rect x="1199" y="569" width="1" height="15" fill="#F23645"/><rect x="1198" y="574" width="3" height="10" fill="#F23645"/><rect x="1203" y="575" width="1" height="25" fill="#F23645"/><rect x="1202" y="583" width="3" height="12" fill="#F23645"/><rect x="1207" y="581" width="1" height="27" fill="#F23645"/><rect x="1206" y="594" width="3" height="12" fill="#F23645"/><rect x="1211" y="586" width="1" height="21" fill="#089981"/><rect x="1210" y="595" width="3" height="11" fill="#089981"/><rect x="1215" y="576" width="1" height="27" fill="#089981"/><rect x="1214" y="584" width="3" height="12" fill="#089981"/><rect x="1219" y="569" width="1" height="47" fill="#089981"/><rect x="1218" y="573" width="3" height="12" fill="#089981"/><rect x="1223" y="566" width="1" height="10" fill="#089981"/><rect x="1222" y="570" width="3" height="4" fill="#089981"/><line x1="1100.4" y1="405.9" x2="1238.6" y2="588.8" stroke="#000" stroke-width="1.3"/></g><polyline points="10.8,775.5 14.7,788.7 18.7,790.1 22.6,801.8 26.5,809.7 30.5,839.8 34.4,851.4 38.4,836.3 42.3,840.7 46.3,841.8 50.2,831.3 54.2,817.1 58.1,816.1 62.1,836.7 66.0,829.6 70.0,821.8 73.9,823.5 77.9,816.8 81.8,815.4 85.8,806.4 89.7,851.3 93.7,843.3 97.6,852.4 101.6,882.0 105.5,889.9 109.4,882.0 113.4,866.6 117.3,863.0 121.3,864.4 125.2,850.8 129.2,849.6 133.1,862.2 137.1,856.5 141.0,867.3 145.0,862.4 148.9,854.7 152.9,859.3 156.8,855.3 160.8,836.9 164.7,833.6 168.7,835.7 172.6,841.8 176.6,843.5 180.5,847.9 184.4,837.3 188.4,829.8 192.3,845.0 196.3,837.4 200.2,829.3 204.2,819.3 208.1,813.6 212.1,796.7 216.0,806.3 220.0,799.9 223.9,794.3 227.9,801.8 231.8,798.9 235.8,795.7 239.7,791.2 243.7,787.7 247.6,786.6 251.6,782.0 255.5,783.4 259.5,781.0 263.4,794.7 267.3,789.8 271.3,780.1 275.2,777.7 279.2,773.4 283.1,773.1 287.1,777.6 291.0,782.7 295.0,776.8 298.9,775.8 302.9,772.3 306.8,764.1 310.8,773.9 314.7,766.0 318.7,761.5 322.6,754.2 326.6,752.6 330.5,820.6 334.5,829.6 338.4,818.7 342.3,807.0 346.3,823.2 350.2,820.1 354.2,821.4 358.1,842.0 362.1,828.9 366.0,825.2 370.0,819.5 373.9,817.8 377.9,812.6 381.8,812.6 385.8,819.9 389.7,819.5 393.7,806.7 397.6,804.6 401.6,803.9 405.5,790.4 409.5,798.9 413.4,791.9 417.4,802.2 421.3,797.7 425.2,789.0 429.2,784.6 433.1,783.9 437.1,806.9 441.0,799.5 445.0,805.5 448.9,815.4 452.9,813.6 456.8,807.0 460.8,820.0 464.7,812.6 468.7,814.5 472.6,811.2 476.6,802.9 480.5,809.0 484.5,803.5 488.4,809.5 492.4,807.9 496.3,791.2 500.2,784.7 504.2,795.0 508.1,795.0 512.1,834.2 516.0,818.0 520.0,812.6 523.9,810.9 527.9,805.2 531.8,802.8 535.8,807.2 539.7,814.1 543.7,804.3 547.6,791.8 551.6,785.3 555.5,780.6 559.5,774.5 563.4,780.5 567.4,771.9 571.3,763.8 575.3,757.9 579.2,752.9 583.1,764.0 587.1,811.0 591.0,797.4 595.0,788.3 598.9,784.9 602.9,795.0 606.8,799.0 610.8,813.9 614.7,810.8 618.7,817.4 622.6,826.9 626.6,851.1 630.5,834.8 634.5,855.4 638.4,864.1 642.4,868.4 646.3,878.9 650.3,869.1 654.2,860.5 658.1,864.5 662.1,849.7 666.0,847.9 670.0,855.6 673.9,849.2 677.9,842.0 681.8,845.8 685.8,840.2 689.7,839.2 693.7,853.5 697.6,855.2 701.6,842.8 705.5,840.8 709.5,839.5 713.4,843.7 717.4,827.9 721.3,806.5 725.3,821.5 729.2,808.4 733.2,801.8 737.1,803.4 741.0,803.4 745.0,798.3 748.9,791.3 752.9,808.2 756.8,803.3 760.8,809.1 764.7,804.8 768.7,818.9 772.6,826.8 776.6,822.6 780.5,825.7 784.5,838.4 788.4,826.5 792.4,851.6 796.3,862.3 800.3,865.7 804.2,870.0 808.2,870.0 812.1,885.1 816.0,895.0 820.0,902.7 823.9,902.7 827.9,907.7 831.8,908.2 835.8,904.7 839.7,906.1 843.7,892.6 847.6,893.2 851.6,901.4 855.5,905.6 859.5,895.0 863.4,874.6 867.4,865.6 871.3,865.8 875.3,861.0 879.2,846.5 883.2,858.3 887.1,880.4 891.1,880.8 895.0,890.2 898.9,892.1 902.9,887.6 906.8,861.9 910.8,880.0 914.7,868.5 918.7,858.3 922.6,853.0 926.6,850.1 930.5,838.7 934.5,840.6 938.4,838.6 942.4,845.2 946.3,848.0 950.3,851.9 954.2,846.3 958.2,841.3 962.1,842.5 966.1,830.6 970.0,828.8 973.9,840.9 977.9,828.1 981.8,823.9 985.8,834.4 989.7,833.6 993.7,823.4 997.6,814.8 1001.6,813.1 1005.5,818.5 1009.5,825.0 1013.4,821.8 1017.4,823.5 1021.3,837.8 1025.3,831.3 1029.2,839.6 1033.2,834.6 1037.1,827.5 1041.1,838.3 1045.0,845.1 1049.0,834.9 1052.9,843.0 1056.8,848.3 1060.8,856.6 1064.7,867.2 1068.7,872.0 1072.6,874.5 1076.6,877.8 1080.5,869.7 1084.5,850.5 1088.4,831.4 1092.4,824.9 1096.3,816.5 1100.3,818.7 1104.2,835.7 1108.2,833.6 1112.1,838.8 1116.1,831.6 1120.0,853.5 1124.0,863.3 1127.9,850.2 1131.8,849.6 1135.8,856.2 1139.7,857.4 1143.7,857.8 1147.6,847.9 1151.6,849.5 1155.5,856.4 1159.5,872.3 1163.4,873.9 1167.4,875.4 1171.3,882.7 1175.3,859.8 1179.2,873.4 1183.2,887.9 1187.1,885.3 1191.1,877.2 1195.0,870.7 1199.0,874.5 1202.9,878.8 1206.9,882.9 1210.8,874.1 1214.7,865.6 1218.7,857.5 1222.6,855.0" fill="none" stroke="#7e57c2" stroke-width="1" stroke-linejoin="round"/><rect x="10" y="27" width="1454" height="926" fill="none" stroke="#f0f0f0" stroke-width="2"/><g fill="none" stroke="#9c27b0" stroke-width="1.6" stroke-linecap="round" stroke-linejoin="round"><path d="M1226.82,711.28 A9.7,9.7 0 1 0 1232.78,717.56"/><path d="M1225.6,715.6 L1219.6,720.6 L1227.4,720.6 L1220.6,725.6" fill="none"/></g><circle cx="1230.4" cy="713.4" r="2.6" fill="#f23645"/></svg>
<div class="t" style="left:18px;top:36px;font-size:12px;letter-spacing:-0.08px">Gold Spot / U.S. Dollar · 1h · FOREX.com</div>
<div class="t" style="left:246px;top:36px;font-size:12px;">O</div>
<div class="t" style="left:253.5px;top:36px;font-size:12px;color:#089981;letter-spacing:-0.2px">4,006.84</div>
<div class="t" style="left:308px;top:36px;font-size:12px;">H</div>
<div class="t" style="left:316.5px;top:36px;font-size:12px;color:#089981;letter-spacing:-0.2px">4,012.49</div>
<div class="t" style="left:370px;top:36px;font-size:12px;">L</div>
<div class="t" style="left:376.5px;top:36px;font-size:12px;color:#089981;letter-spacing:-0.2px">4,004.51</div>
<div class="t" style="left:429.5px;top:36px;font-size:12px;">C</div>
<div class="t" style="left:437.5px;top:36px;font-size:12px;color:#089981;letter-spacing:-0.2px">4,009.32</div>
<div class="t" style="left:490.5px;top:36px;font-size:12px;color:#089981;letter-spacing:-0.3px">+2.48 (+0.06%)</div>
<div style="position:absolute;left:1402px;top:31px;width:58px;height:26px;border:1px solid #e8e8ea;border-radius:5px;box-sizing:border-box"></div>
<div class="t" style="left:1411px;top:39px;font-size:12px;transform:scaleX(0.86);transform-origin:0 0">USD</div>
<div class="pa" style="top:67.9px">4,400.00</div>
<div class="pa" style="top:99.5px">4,375.00</div>
<div class="pa" style="top:131.2px">4,350.00</div>
<div class="pa" style="top:162.8px">4,325.00</div>
<div class="pa" style="top:194.5px">4,300.00</div>
<div class="pa" style="top:226.1px">4,275.00</div>
<div class="pa" style="top:257.7px">4,250.00</div>
<div class="pa" style="top:289.4px">4,225.00</div>
<div class="pa" style="top:321.0px">4,200.00</div>
<div class="pa" style="top:352.6px">4,175.00</div>
<div class="pa" style="top:384.3px">4,150.00</div>
<div class="pa" style="top:415.9px">4,125.00</div>
<div class="pa" style="top:447.6px">4,100.00</div>
<div class="pa" style="top:479.2px">4,075.00</div>
<div class="pa" style="top:510.8px">4,050.00</div>
<div class="pa" style="top:542.5px">4,025.00</div>
<div class="pa" style="top:574.1px">4,000.00</div>
<div class="pa" style="top:605.7px">3,975.00</div>
<div class="pa" style="top:637.4px">3,950.00</div>
<div class="pa" style="top:669.0px">3,925.00</div>
<div class="pa" style="top:700.7px">3,900.00</div>
<div style="position:absolute;left:1399px;top:329.0px;width:60px;height:17px;border-radius:2px;background:#000"></div>
<div class="pa" style="top:330.0px;color:#fff;-webkit-text-stroke:0.35px #fff">4,193.05</div>
<div style="position:absolute;left:1399px;top:374.7px;width:60px;height:17px;border-radius:2px;background:#000"></div>
<div class="pa" style="top:375.7px;color:#fff;-webkit-text-stroke:0.35px #fff">4,156.97</div>
<div style="position:absolute;left:1399px;top:562.0px;width:60px;height:17px;border-radius:2px;background:#089981"></div>
<div class="pa" style="top:563.0px;color:#fff;-webkit-text-stroke:0.35px #fff">4,009.32</div>
<div style="position:absolute;left:1399px;top:642.0px;width:60px;height:17px;border-radius:2px;background:#000"></div>
<div class="pa" style="top:643.0px;color:#fff;-webkit-text-stroke:0.35px #fff">3,946.15</div>
<div class="pa" style="top:761.3px">80.00</div>
<div class="pa" style="top:808.2px">60.00</div>
<div class="pa" style="top:855.1px">40.00</div>
<div class="pa" style="top:901.4px">20.00</div>
<div style="position:absolute;left:11px;top:932px;width:1390px;height:16px;overflow:hidden">
<div class="ta" style="left:0.1px;top:0px">9</div>
<div class="ta" style="left:90.8px;top:0px">10</div>
<div class="ta" style="left:181.6px;top:0px">11</div>
<div class="ta" style="left:272.4px;top:0px">14</div>
<div class="ta" style="left:363.2px;top:0px">15</div>
<div class="ta" style="left:454.0px;top:0px">16</div>
<div class="ta" style="left:544.8px;top:0px">17</div>
<div class="ta" style="left:635.6px;top:0px">18</div>
<div class="ta" style="left:726.4px;top:0px">21</div>
<div class="ta" style="left:817.2px;top:0px">22</div>
<div class="ta" style="left:908.0px;top:0px">23</div>
<div class="ta" style="left:998.8px;top:0px">24</div>
<div class="ta" style="left:1089.6px;top:0px">25</div>
<div class="ta" style="left:1180.4px;top:0px">28</div>
<div class="ta" style="left:1271.1px;top:0px">29</div>
<div class="ta" style="left:1361.9px;top:0px">30</div>

</div>
<svg width="60" height="30" style="position:absolute;left:0;top:965px"><g fill="#131313" transform="translate(0,-965)"><path d="M12.1,975 H23.9 V989.7 H18 V980.7 H12.1 Z"/><circle cx="28.9" cy="978" r="2.85"/><path d="M35.1,975 H41.8 L36.1,989.7 H29.2 Z"/></g></svg>
<div class="t" style="left:49px;top:972px;font-size:20.6px;font-weight:bold;color:#131313;letter-spacing:0.1px;-webkit-text-stroke:0">TradingView</div>
</body></html>
